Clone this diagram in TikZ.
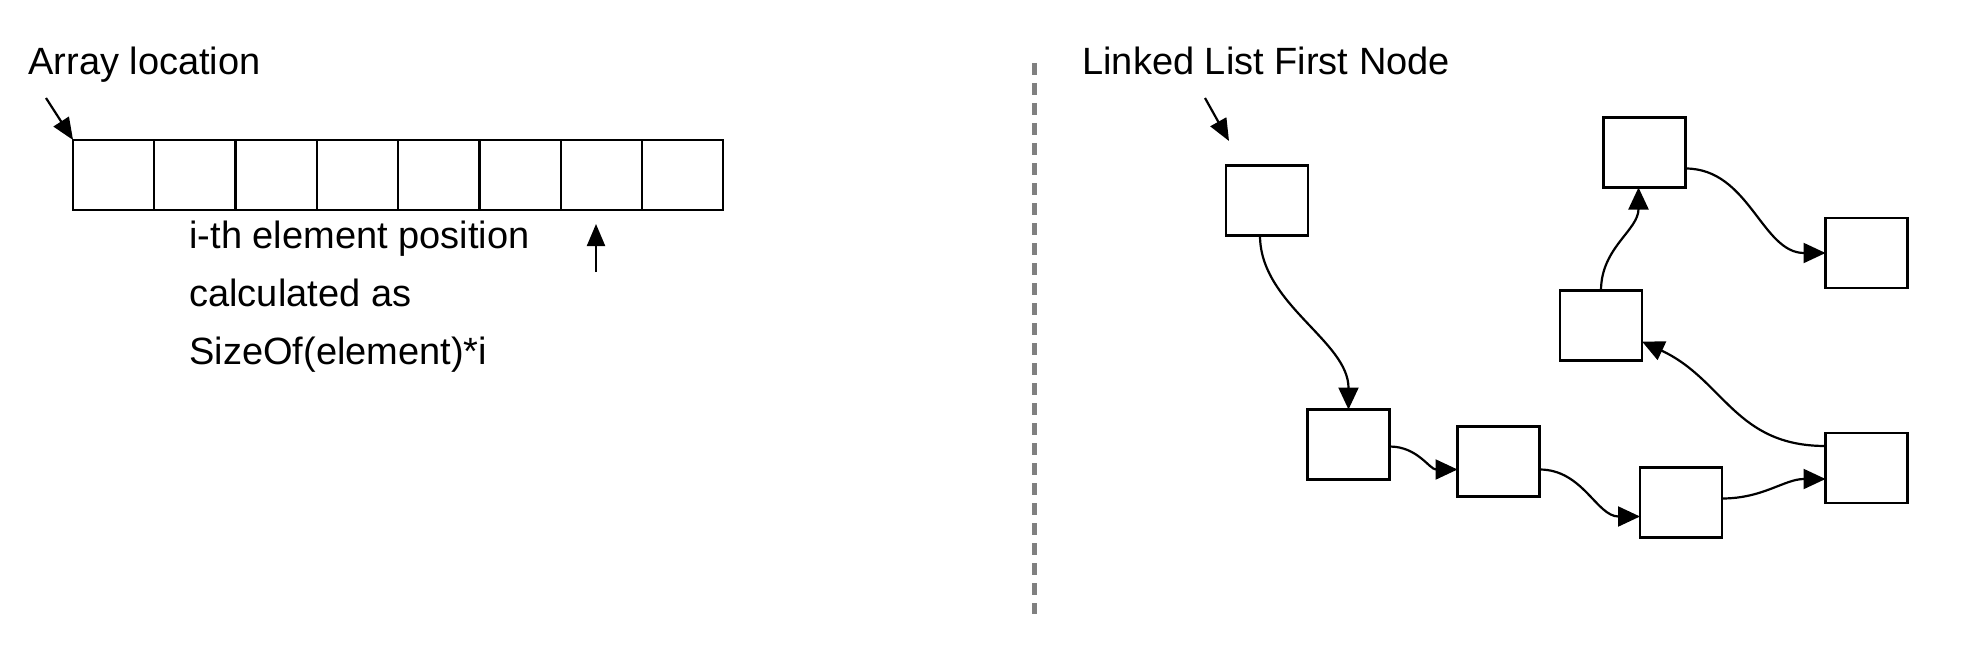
\documentclass[tikz,border=0pt]{standalone}
\usepackage{fontspec}
\setmainfont{Liberation Sans}
\usetikzlibrary{arrows.meta}
\begin{document}
\begin{tikzpicture}[x=0.5pt,y=-0.5pt,
  cell/.style={draw,line width=1.1pt,minimum width=40.6pt,minimum height=35pt,inner sep=0pt,outer sep=0pt},
  lnode/.style={draw,line width=1.3pt,minimum width=41pt,minimum height=35pt,inner sep=0pt,outer sep=0pt},
  lbl/.style={font=\fontsize{19}{23}\selectfont,inner sep=0pt,anchor=base west},
  link/.style={line width=1.1pt,-{Triangle[length=11pt,width=10pt]}},
  ptr/.style={line width=1.1pt,-{Triangle[length=11pt,width=9pt]}},
  sep/.style={draw=black!50,line width=2.5pt,dash pattern=on 6pt off 4pt}
]
\useasboundingbox (0,0) rectangle (1980,658);
\fill[white] (0,0) rectangle (1980,658);

% ---- Array ----
\node[lbl] (arrlbl) at (28,75) {Array location};
\foreach \i in {0,...,7}{
  \node[cell] (c\i) at ({73+81.3*\i+40.65},175) {};
}
\coordinate (arrtail) at (46,98);
\draw[ptr] (arrtail) -- (c0.north west);

\node[lbl] (t1) at (189,248) {i-th element position};
\node[lbl] (t2) at (189,306) {calculated as};
\node[lbl] (t3) at (189,364) {SizeOf(element)*i};
\coordinate (uptail) at (596,272);
\coordinate (uptip) at (596,224);
\draw[ptr] (uptail) -- (uptip);

% ---- separator ----
\coordinate (s1) at (1034,63);
\coordinate (s2) at (1034,614);
\draw[sep] (s1) -- (s2);

% ---- Linked list ----
\node[lbl] (lllbl) at (1082,75) {Linked List First Node};
\node[lnode] (A) at (1267,200.5) {};
\node[lnode] (B) at (1348.5,444.5) {};
\node[lnode] (C) at (1498.5,461.5) {};
\node[lnode] (D) at (1681,502.5) {};
\node[lnode] (E) at (1866.5,468) {};
\node[lnode] (F) at (1601,325.5) {};
\node[lnode] (G) at (1644.5,152.5) {};
\node[lnode] (H) at (1866.5,253) {};

\coordinate (lltail) at (1205,98);
\coordinate (lltip) at (1229,141);
\draw[ptr] (lltail) -- (lltip);

\draw[link] ([xshift=-3.5pt]A.south) to[out=-90,in=90,looseness=0.9] (B.north);
\draw[link] ([yshift=-1pt]B.east) to[out=0,in=180] ([yshift=-4pt]C.west);
\draw[link] ([yshift=-4pt]C.east) to[out=0,in=180] ([yshift=-7pt]D.west);
\draw[link] ([yshift=2pt]D.east) to[out=0,in=180] ([yshift=-5.5pt]E.west);
\draw[link] ([yshift=11pt]E.west) to[out=180,in=-25,looseness=1.1] ([yshift=-8pt]F.east);
\draw[link] (F.north) to[out=90,in=-90] ([xshift=-3pt]G.south);
\draw[link] ([yshift=-8pt]G.east) to[out=0,in=180] (H.west);
\end{tikzpicture}
\end{document}
